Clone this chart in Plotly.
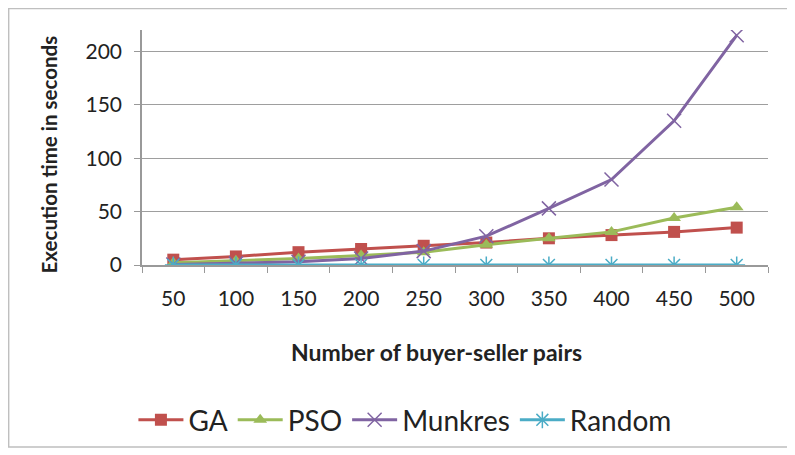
import plotly.graph_objects as go

pairs = ["50", "100", "150", "200", "250", "300", "350", "400", "450", "500"]
ga = [5, 8, 12, 15, 18, 21, 25, 28, 31, 35]
pso = [2, 4, 6, 9, 12, 19, 25, 31, 44, 54]
munkres = [0.5, 1.5, 3, 6, 13, 27, 53, 80, 135, 215]
rand = [0.1, 0.1, 0.1, 0.1, 0.1, 0.1, 0.1, 0.1, 0.1, 0.1]

series = [
    ("GA", ga, "#C0504D", "square"),
    ("PSO", pso, "#9BBB59", "triangle-up"),
    ("Munkres", munkres, "#8064A2", "x-thin-open"),
    ("Random", rand, "#4BACC6", "asterisk-open"),
]

fig = go.Figure()
for name, vals, color, sym in series:
    open_marker = sym.endswith("open")
    fig.add_trace(go.Scatter(
        x=pairs, y=vals, name=name, mode="lines+markers",
        line=dict(color=color, width=3),
        marker=dict(symbol=sym, size=14 if open_marker else 12, color=color,
                    line=dict(color=color, width=1.5 if open_marker else 0)),
    ))

font = "Lato, Open Sans, sans-serif"
# page body adds 8px offset, margins compensate
fig.update_layout(
    width=795, height=455,
    margin=dict(l=134, r=35, t=22, b=198),
    plot_bgcolor="white", paper_bgcolor="white",
    font=dict(family=font, size=21, color="#222"),
    showlegend=True,
    legend=dict(orientation="h", x=0.42, xanchor="center", y=-0.66, yanchor="middle",
                font=dict(size=28), itemwidth=45, traceorder="normal"),
    shapes=[dict(type="rect", xref="paper", yref="paper",
                 x0=-0.213, x1=1.0335, y0=-0.7745, y1=1.0915,
                 line=dict(color="#BFBFBF", width=1.5))],
    annotations=[
        dict(text="<b>Number of buyer-seller pairs</b>", xref="paper", yref="paper",
             x=0.47, y=-0.37, xanchor="center", yanchor="middle",
             showarrow=False, font=dict(size=23)),
        dict(text="<b>Execution time in seconds</b>", xref="paper", yref="paper",
             x=-0.148, y=0.472, xanchor="center", yanchor="middle",
             showarrow=False, textangle=-90, font=dict(size=20.5)),
    ],
)
fig.update_xaxes(
    type="category", range=[-0.5, 9.5], tickson="boundaries",
    ticks="outside", ticklen=6, tickcolor="#999", showline=True, linecolor="#999",
    linewidth=1.5, showgrid=False, ticklabelstandoff=14,
)
fig.update_yaxes(
    range=[0, 220], tickvals=[0, 50, 100, 150, 200], ticks="outside", ticklen=6,
    tickcolor="#999", showline=True, linecolor="#999", linewidth=1.5,
    gridcolor="#9E9E9E", gridwidth=1, zeroline=False, ticklabelstandoff=8,
)

fig.write_html("out.html")
